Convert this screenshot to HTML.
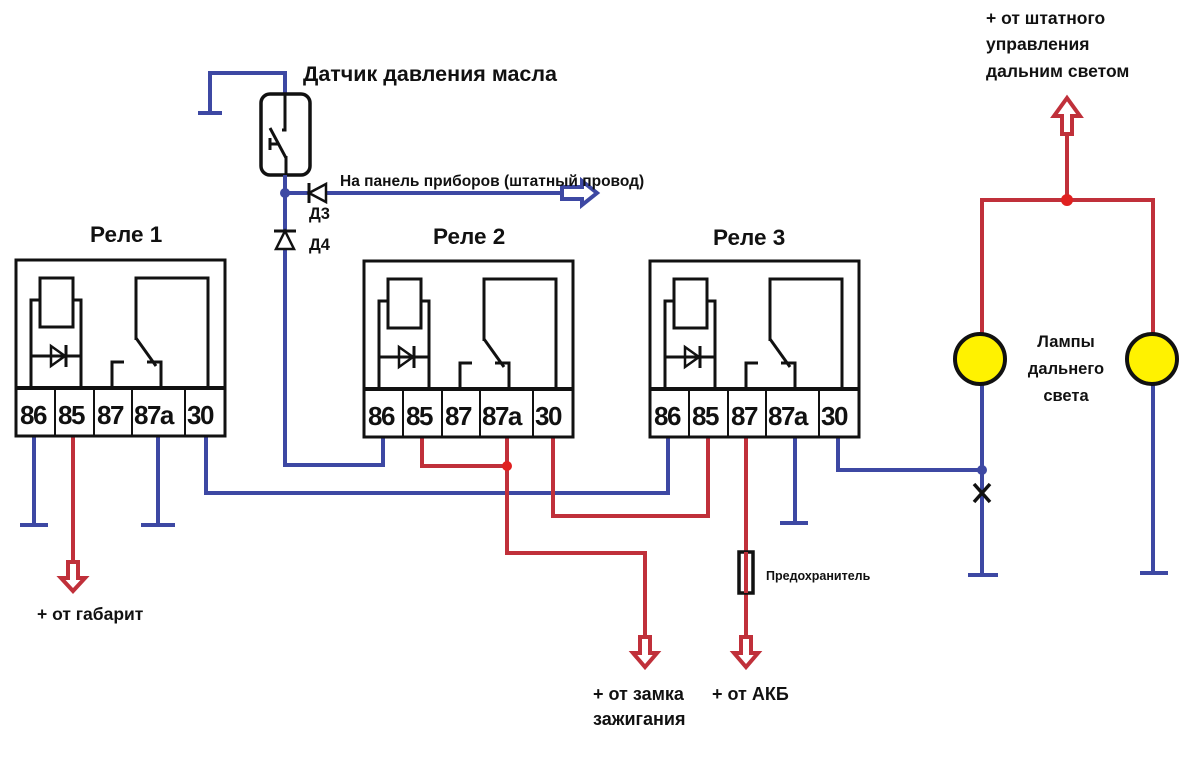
<!DOCTYPE html>
<html><head><meta charset="utf-8"><style>
html,body{margin:0;padding:0;background:#fff;width:1200px;height:768px;overflow:hidden}
svg{display:block}
text{font-family:"Liberation Sans","DejaVu Sans",sans-serif;font-weight:bold;fill:#111}
.b{stroke:#3d48a3;stroke-width:4;fill:none}
.r{stroke:#c0303a;stroke-width:4;fill:none}
.k{stroke:#111;stroke-width:3;fill:none}
.t{font-size:26px;letter-spacing:-1.5px}
</style></head><body>
<svg width="1200" height="768" viewBox="0 0 1200 768" xmlns="http://www.w3.org/2000/svg">
<defs>
<g id="relay">
  <rect x="0" y="0" width="209" height="176" fill="#fff" stroke="#111" stroke-width="3"/>
  <line x1="0" y1="128" x2="209" y2="128" stroke="#111" stroke-width="4"/>
  <line x1="39" y1="128" x2="39" y2="176" stroke="#111" stroke-width="2"/>
  <line x1="78" y1="128" x2="78" y2="176" stroke="#111" stroke-width="2"/>
  <line x1="116" y1="128" x2="116" y2="176" stroke="#111" stroke-width="2"/>
  <line x1="169" y1="128" x2="169" y2="176" stroke="#111" stroke-width="2"/>
  <rect x="24" y="18" width="33" height="49" fill="none" stroke="#111" stroke-width="3"/>
  <polyline points="15,128 15,40 24,40" class="k"/>
  <polyline points="57,40 65,40 65,128" class="k"/>
  <line x1="15" y1="96" x2="65" y2="96" class="k"/>
  <polygon points="35,86 35,106 49,96" fill="none" stroke="#111" stroke-width="2.5"/>
  <line x1="50" y1="85" x2="50" y2="107" class="k"/>
  <polyline points="120,80 120,18 192,18 192,128" class="k"/>
  <line x1="120" y1="78" x2="140" y2="106" class="k"/>
  <polyline points="96,128 96,102 108,102" class="k"/>
  <polyline points="131,102 145,102 145,128" class="k"/>
  <text class="t" x="4" y="164">86</text>
  <text class="t" x="42" y="164">85</text>
  <text class="t" x="81" y="164">87</text>
  <text class="t" x="118" y="164">87a</text>
  <text class="t" x="171" y="164">30</text>
</g>
</defs>

<polyline class="b" points="34,436 34,525"/><line class="b" x1="20" y1="525" x2="48" y2="525"/>
<polyline class="r" points="73,436 73,562"/>
<polyline class="b" points="158,436 158,525"/><line class="b" x1="141" y1="525" x2="175" y2="525"/>
<polyline class="b" points="206,436 206,493 668,493 668,437"/>
<polyline class="b" points="383,437 383,465 285,465 285,93"/>
<polyline class="r" points="422,437 422,466 507,466"/>
<polyline class="r" points="507,437 507,553 645,553 645,637"/>
<circle cx="507" cy="466" r="5" fill="#e02020"/>
<polyline class="r" points="553,437 553,516 708,516 708,437"/>
<polyline class="r" points="746,437 746,637"/>
<polyline class="b" points="795,437 795,523"/><line class="b" x1="780" y1="523" x2="808" y2="523"/>
<polyline class="b" points="838,437 838,470 982,470"/>
<circle cx="982" cy="470" r="5" fill="#3d48a3"/>
<polyline class="b" points="982,360 982,575"/><line class="b" x1="968" y1="575" x2="998" y2="575"/>
<polyline class="b" points="1153,360 1153,573"/><line class="b" x1="1140" y1="573" x2="1168" y2="573"/>
<polyline class="r" points="982,340 982,200 1153,200 1153,340"/>
<line class="r" x1="1067" y1="200" x2="1067" y2="134"/>
<circle cx="1067" cy="200" r="6" fill="#e02020"/>
<path d="M974,484 L990,502 M990,484 L974,502" stroke="#111" stroke-width="3.5"/>
<circle cx="980" cy="359" r="25" fill="#fff200" stroke="#111" stroke-width="4"/>
<circle cx="1152" cy="359" r="25" fill="#fff200" stroke="#111" stroke-width="4"/>

<rect x="739" y="552" width="14" height="41" fill="#fff" stroke="#111" stroke-width="3.5"/>
<line class="r" x1="746" y1="552" x2="746" y2="593" stroke-width="3"/>

<polyline class="b" points="285,93 285,73 210,73 210,113"/><line class="b" x1="198" y1="113" x2="222" y2="113"/>
<rect x="261" y="94" width="49" height="81" rx="9" fill="#fff" stroke="#111" stroke-width="3.5"/>
<polyline class="k" points="285,94 285,130 282,130"/>
<line class="k" x1="270" y1="128" x2="286" y2="158"/>
<path d="M270,138 V150 M270,144 H278" class="k"/>
<line class="k" x1="286" y1="156" x2="286" y2="175"/>
<line class="b" x1="285" y1="175" x2="285" y2="195"/>
<circle cx="285" cy="193" r="5" fill="#3d48a3"/>
<line class="b" x1="285" y1="193" x2="565" y2="193"/>
<polygon points="562,187 582,187 582,181 597,193 582,205 582,199 562,199" fill="#fff" stroke="#3d48a3" stroke-width="4"/>
<polygon points="309,193 326,184 326,202" fill="#fff" stroke="#111" stroke-width="2.5"/>
<line class="k" x1="309" y1="183" x2="309" y2="203"/>
<polygon points="285,231 276,249 294,249" fill="#fff" stroke="#111" stroke-width="2.5"/>
<line class="k" x1="274" y1="231" x2="296" y2="231"/>

<polygon points="68,562 78,562 78,578 85,578 73,591 61,578 68,578" fill="#fff" stroke="#c0303a" stroke-width="4"/>
<polygon points="640,637 650,637 650,653 657,653 645,667 633,653 640,653" fill="#fff" stroke="#c0303a" stroke-width="4"/>
<polygon points="741,637 751,637 751,653 758,653 746,667 734,653 741,653" fill="#fff" stroke="#c0303a" stroke-width="4"/>
<polygon points="1062,134 1072,134 1072,116 1080,116 1067,98 1054,116 1062,116" fill="#fff" stroke="#c0303a" stroke-width="4"/>

<use href="#relay" x="16" y="260"/>
<use href="#relay" x="364" y="261"/>
<use href="#relay" x="650" y="261"/>

<text x="90" y="242" font-size="22.5">Реле 1</text>
<text x="433" y="244" font-size="22.5">Реле  2</text>
<text x="713" y="245" font-size="22.5">Реле 3</text>
<text x="303" y="81" font-size="21.5">Датчик давления масла</text>
<text x="340" y="186" font-size="15.5">На панель приборов (штатный провод)</text>
<text x="309" y="219" font-size="16.5">Д3</text>
<text x="309" y="250" font-size="16.5">Д4</text>
<text x="37" y="620" font-size="17.5">+ от габарит</text>
<text x="593" y="700" font-size="18">+ от замка</text>
<text x="593" y="725" font-size="18">зажигания</text>
<text x="712" y="700" font-size="18">+ от АКБ</text>
<text x="766" y="580" font-size="12.5">Предохранитель</text>
<text x="1066" y="347" font-size="16.5" text-anchor="middle">Лампы</text>
<text x="1066" y="374" font-size="16.5" text-anchor="middle">дальнего</text>
<text x="1066" y="401" font-size="16.5" text-anchor="middle">света</text>
<text x="986" y="24" font-size="17.5">+ от штатного</text>
<text x="986" y="50" font-size="17.5">управления</text>
<text x="986" y="77" font-size="17.5">дальним светом</text>
</svg>
</body></html>
